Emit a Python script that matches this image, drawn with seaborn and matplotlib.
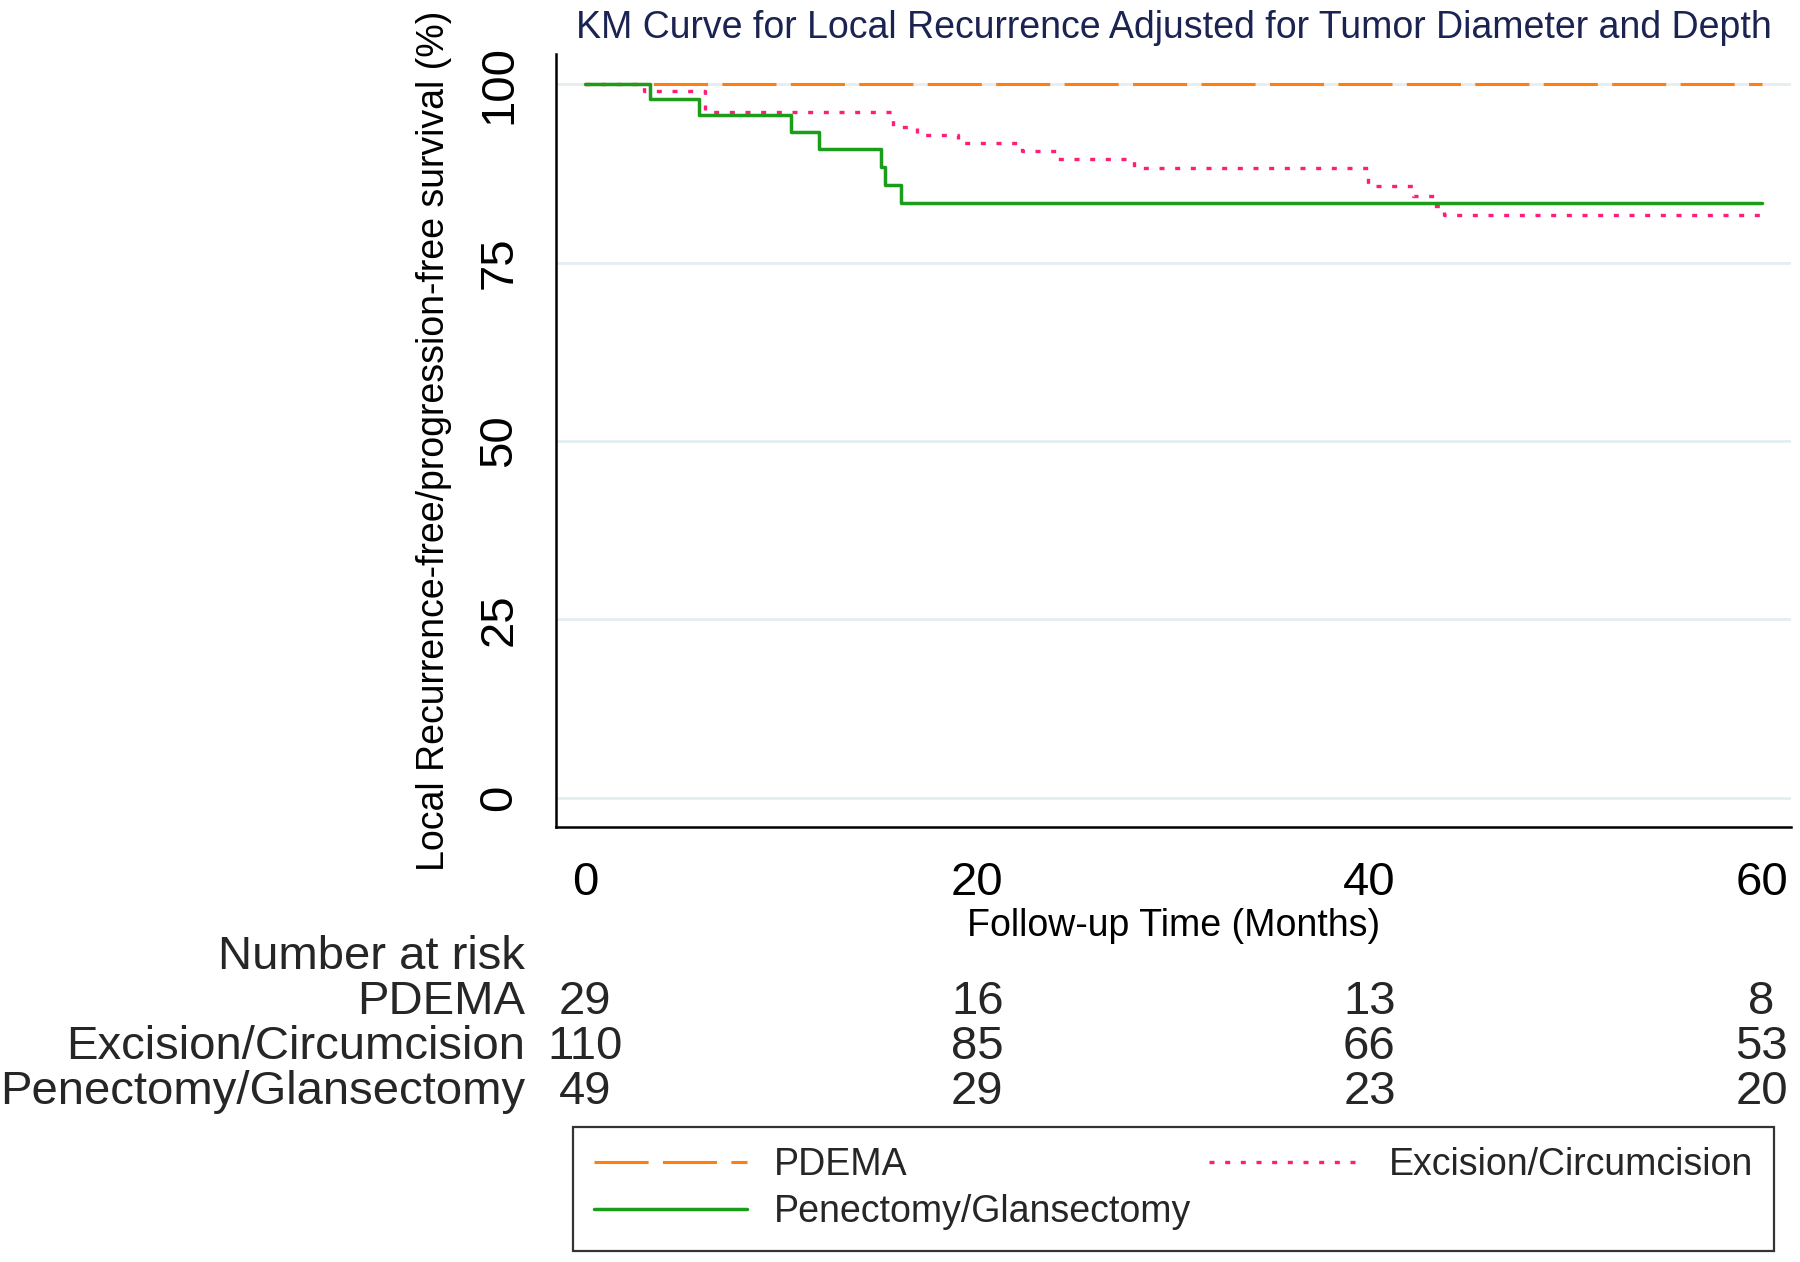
#KM curve for local recurrence, by treatment group
import matplotlib
matplotlib.use("Agg")
import matplotlib.pyplot as plt
import matplotlib.transforms as mtransforms
import seaborn as sns
import pandas as pd

# group names
groups = ["PDEMA", "Excision/Circumcision", "Penectomy/Glansectomy"]

# step times (months) and survival (%)
pdema_t = [0, 60]
pdema_s = [100, 100]
excision_t = [0, 3.0, 6.1, 15.7, 16.9, 19.0, 22.3, 24.1, 28.0, 39.9, 42.2, 43.3, 43.8, 60]
excision_s = [100, 99.0, 96.1, 94.0, 92.9, 91.8, 90.7, 89.5, 88.3, 85.7, 84.3, 82.9, 81.7, 81.7]
penectomy_t = [0, 3.3, 5.8, 10.5, 11.9, 15.1, 15.3, 16.1, 60]
penectomy_s = [100, 97.9, 95.7, 93.3, 90.9, 88.4, 85.9, 83.3, 83.3]

# number at risk table
risk_times = [0, 20, 40, 60]
pdema_risk = [29, 16, 13, 8]
excision_risk = [110, 85, 66, 53]
penectomy_risk = [49, 29, 23, 20]

y_ticks = [0, 25, 50, 75, 100]
x_ticks = [0, 20, 40, 60]

sns.set_theme(style="white")
plt.rcParams["font.family"] = ["Liberation Sans", "DejaVu Sans"]

fig = plt.figure(figsize=(18, 12.62), dpi=100)
ax = fig.add_axes([0.309, 0.345, 0.686, 0.612])

orange = "#ff7f0e"
pink = "#ff1d77"
green = "#1a9e1a"

df_p = pd.DataFrame({"t": pdema_t, "s": pdema_s})
df_e = pd.DataFrame({"t": excision_t, "s": excision_s})
df_g = pd.DataFrame({"t": penectomy_t, "s": penectomy_s})

sns.lineplot(data=df_p, x="t", y="s", ax=ax, color=orange, lw=2.2, drawstyle="steps-post",
             estimator=None, sort=False, linestyle=(0, (17.7, 4.7)), label=groups[0], legend=False)
sns.lineplot(data=df_e, x="t", y="s", ax=ax, color=pink, lw=2.4, drawstyle="steps-post",
             estimator=None, sort=False, linestyle=(0, (1.5, 3.2)), label=groups[1], legend=False)
sns.lineplot(data=df_g, x="t", y="s", ax=ax, color=green, lw=2.5, drawstyle="steps-post",
             estimator=None, sort=False, label=groups[2], legend=False)

ax.set_xlim(-1.48, 61.5)
ax.set_ylim(-4.06, 104.2)
ax.set_xticks(x_ticks)
ax.set_yticks(y_ticks)
ax.set_axisbelow(True)
ax.yaxis.grid(True, color="#e4eef0", lw=2)
ax.xaxis.grid(False)

for side in ["top", "right"]:
    ax.spines[side].set_visible(False)
for side in ["left", "bottom"]:
    ax.spines[side].set_color("black")
    ax.spines[side].set_linewidth(1.8)

ax.tick_params(axis="both", which="major", direction="out", length=13, width=1.4,
               color="black", labelsize=34, labelcolor="black")
ax.tick_params(axis="x", pad=12)
ax.tick_params(axis="y", pad=12, labelrotation=90)
for lab in ax.get_yticklabels():
    lab.set_va("center")

ax.set_xlabel("Follow-up Time (Months)", fontsize=27, color="black", labelpad=2)
ax.set_ylabel("Local Recurrence-free/progression-free survival (%)", fontsize=27,
              color="black", labelpad=18)
ax.set_title("KM Curve for Local Recurrence Adjusted for Tumor Diameter and Depth",
             fontsize=27, color="#1a2352", pad=12)

# number at risk under the axis
trans = mtransforms.blended_transform_factory(ax.transData, fig.transFigure)
label_x = 525 / 1800
fig.text(label_x, 1 - 957 / 1262, "Number at risk", ha="right", va="center", fontsize=34)
rows = [pdema_risk, excision_risk, penectomy_risk]
row_y = [1002, 1047, 1092]
for name, vals, yy in zip(groups, rows, row_y):
    fy = 1 - yy / 1262
    fig.text(label_x, fy, name, ha="right", va="center", fontsize=34)
    for t, v in zip(risk_times, vals):
        ax.text(t, fy, str(v), transform=trans, ha="center", va="center", fontsize=34, clip_on=False)

# legend at the bottom
lines = ax.get_lines()
handles = [lines[0], lines[2], lines[1]]
labels = [groups[0], groups[2], groups[1]]
leg = fig.legend(handles, labels, loc="lower left", ncol=2, mode="expand",
                 bbox_to_anchor=(573 / 1800, 11 / 1262, 1201 / 1800, 120 / 1262),
                 fontsize=27, handlelength=4.1, handletextpad=0.7, frameon=True,
                 fancybox=False, borderpad=0.55, labelspacing=0.3, columnspacing=1.0,
                 borderaxespad=0)
leg.get_frame().set_edgecolor("black")
leg.get_frame().set_linewidth(1.6)

fig.savefig("out.png", dpi=100, facecolor="white")
